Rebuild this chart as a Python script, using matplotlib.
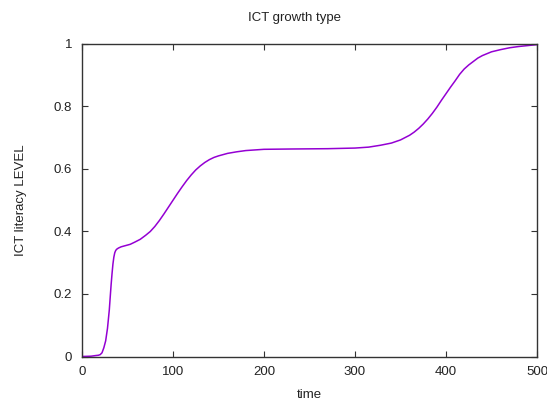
import matplotlib
matplotlib.use("Agg")
import matplotlib.pyplot as plt

# points
time = [0, 10, 15, 18, 20, 22, 24, 26, 28, 30, 31, 32, 33, 34, 35, 36, 37, 38,
        40, 43, 48, 53, 58, 64, 70, 75, 80, 85, 90, 95, 100, 105, 110, 115,
        120, 125, 130, 135, 140, 145, 150, 160, 170, 180, 200, 230, 270, 300,
        315, 328, 340, 350, 360, 365, 370, 375, 380, 385, 390, 395, 400, 405,
        410, 415, 420, 425, 430, 435, 440, 445, 450, 460, 470, 480, 490, 500]
level = [0.0, 0.001, 0.003, 0.004, 0.006, 0.012, 0.028, 0.05, 0.09, 0.149, 0.19,
         0.23, 0.265, 0.296, 0.318, 0.332, 0.339, 0.343, 0.347, 0.351, 0.355,
         0.359, 0.366, 0.375, 0.388, 0.4, 0.416, 0.435, 0.456, 0.478, 0.5,
         0.522, 0.543, 0.563, 0.581, 0.597, 0.61, 0.621, 0.63, 0.637, 0.642,
         0.65, 0.655, 0.659, 0.663, 0.664, 0.665, 0.667, 0.67, 0.676, 0.683,
         0.693, 0.708, 0.718, 0.73, 0.744, 0.76, 0.778, 0.798, 0.82, 0.841,
         0.862, 0.882, 0.903, 0.92, 0.933, 0.944, 0.955, 0.963, 0.969, 0.975,
         0.982, 0.988, 0.992, 0.995, 0.998]

plt.rcParams['font.family'] = ['Liberation Sans', 'DejaVu Sans']

fig = plt.figure(figsize=(5.47, 4.03), dpi=100)
ax = fig.add_axes([82 / 547, 1 - 356.5 / 403, 455 / 547, 312.5 / 403])

ax.plot(time, level, color='#9400D3', linewidth=1.1)

ax.set_xlim(0, 500)
ax.set_ylim(0, 1)
ax.set_xticks([0, 100, 200, 300, 400, 500])
ax.set_yticks([0, 0.2, 0.4, 0.6, 0.8, 1])
ax.set_yticklabels(['0', '0.2', '0.4', '0.6', '0.8', '1'])
ax.tick_params(direction='in', top=True, right=True, length=4, width=0.8,
               labelsize=9.5, pad=7, colors='#333333', labelcolor='#222222')
for s in ax.spines.values():
    s.set_linewidth(1.0)
    s.set_color('#333333')

fig.text(294 / 547, 1 - 18 / 403, 'ICT growth type', ha='center', va='center',
         fontsize=9.5, color='#222222')
ax.set_xlabel('time', fontsize=9.5, color='#222222', labelpad=8)
ax.set_ylabel('ICT literacy LEVEL', fontsize=9.5, color='#222222')
ax.yaxis.set_label_coords(-55 / 455, 0.5)

fig.savefig('out.png', dpi=100)
